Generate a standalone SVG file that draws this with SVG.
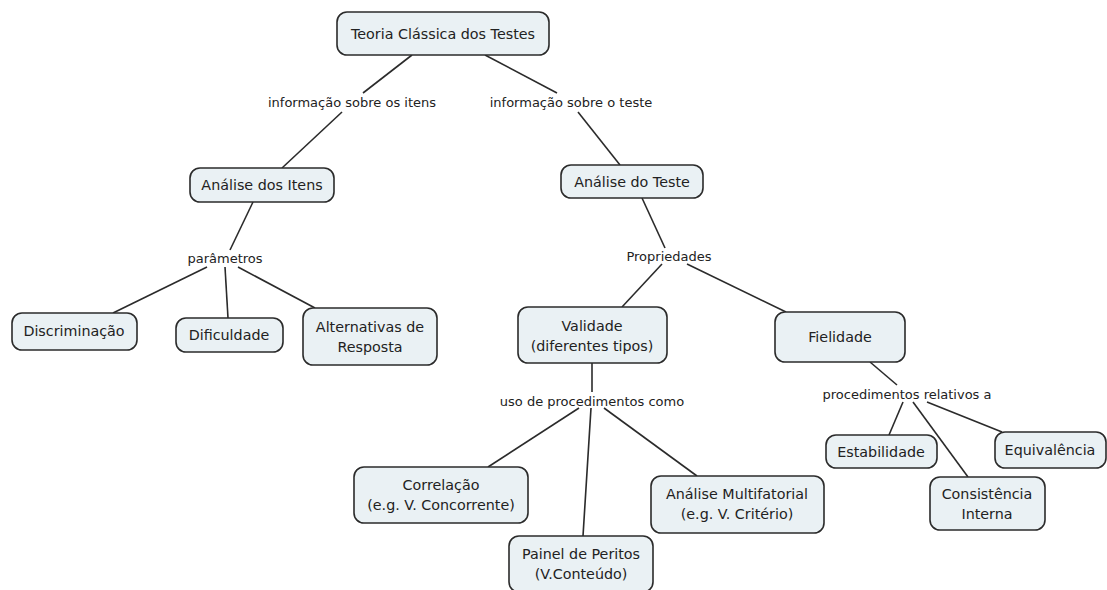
<svg xmlns="http://www.w3.org/2000/svg" width="1107" height="590" viewBox="0 0 1107 590">
<style>
.n rect{fill:#eaf1f4;stroke:#2b2b2b;stroke-width:1.6}
.n text{font-family:"DejaVu Sans",Verdana,sans-serif;font-size:14.3px;fill:#222;text-anchor:middle}
.c line{stroke:#2b2b2b;stroke-width:1.6}
.l{font-family:"DejaVu Sans",Verdana,sans-serif;font-size:13px;fill:#222;text-anchor:middle}
</style>
<rect width="1107" height="590" fill="#fff"/>
<g class="c">
<line x1="412" y1="55" x2="363" y2="93"/>
<line x1="342" y1="112" x2="282" y2="168"/>
<line x1="485" y1="55" x2="557" y2="93"/>
<line x1="578" y1="112" x2="620" y2="165"/>
<line x1="253" y1="202" x2="230" y2="250"/>
<line x1="207" y1="267" x2="113" y2="313"/>
<line x1="225" y1="267" x2="228" y2="318"/>
<line x1="238" y1="267" x2="315" y2="308"/>
<line x1="642" y1="198" x2="665" y2="248"/>
<line x1="662" y1="264" x2="622" y2="307"/>
<line x1="687" y1="264" x2="786" y2="312"/>
<line x1="592" y1="363" x2="592" y2="392"/>
<line x1="579" y1="408" x2="488" y2="467"/>
<line x1="591" y1="408" x2="583" y2="536"/>
<line x1="604" y1="408" x2="697" y2="476"/>
<line x1="870" y1="362" x2="897" y2="385"/>
<line x1="903" y1="402" x2="889" y2="435"/>
<line x1="913" y1="402" x2="968" y2="477"/>
<line x1="927" y1="402" x2="1002" y2="432"/>
</g>
<g id="labels">
<text class="l" x="352" y="107">informação sobre os itens</text>
<text class="l" x="571" y="107">informação sobre o teste</text>
<text class="l" x="225" y="263">parâmetros</text>
<text class="l" x="669" y="261">Propriedades</text>
<text class="l" x="592" y="406">uso de procedimentos como</text>
<text class="l" x="907" y="399">procedimentos relativos a</text>
</g>
<g id="root" class="n"><rect x="337" y="12" width="212" height="43" rx="10"/><text x="443" y="39">Teoria Clássica dos Testes</text></g>
<g id="itens" class="n"><rect x="190" y="168" width="144" height="34" rx="10"/><text x="262" y="190">Análise dos Itens</text></g>
<g id="teste" class="n"><rect x="561" y="165" width="142" height="33" rx="10"/><text x="632" y="187">Análise do Teste</text></g>
<g id="discriminacao" class="n"><rect x="12" y="313" width="125" height="37" rx="10"/><text x="74" y="336">Discriminação</text></g>
<g id="dificuldade" class="n"><rect x="176" y="318" width="107" height="34" rx="10"/><text x="229" y="340">Dificuldade</text></g>
<g id="alternativas" class="n"><rect x="303" y="308" width="134" height="57" rx="10"/><text x="370" y="332">Alternativas de</text><text x="370" y="352">Resposta</text></g>
<g id="validade" class="n"><rect x="518" y="307" width="149" height="56" rx="10"/><text x="592" y="331">Validade</text><text x="592" y="351">(diferentes tipos)</text></g>
<g id="fielidade" class="n"><rect x="775" y="312" width="130" height="50" rx="10"/><text x="840" y="342">Fielidade</text></g>
<g id="correlacao" class="n"><rect x="354" y="467" width="174" height="56" rx="10"/><text x="441" y="490">Correlação</text><text x="441" y="510">(e.g. V. Concorrente)</text></g>
<g id="painel" class="n"><rect x="509" y="536" width="144" height="56" rx="10"/><text x="581" y="559">Painel de Peritos</text><text x="581" y="579">(V.Conteúdo)</text></g>
<g id="multifatorial" class="n"><rect x="651" y="476" width="173" height="57" rx="10"/><text x="737" y="499">Análise Multifatorial</text><text x="737" y="519">(e.g. V. Critério)</text></g>
<g id="estabilidade" class="n"><rect x="826" y="435" width="111" height="33" rx="10"/><text x="881" y="457">Estabilidade</text></g>
<g id="equivalencia" class="n"><rect x="995" y="432" width="111" height="36" rx="10"/><text x="1050" y="455">Equivalência</text></g>
<g id="consistencia" class="n"><rect x="930" y="477" width="115" height="53" rx="10"/><text x="987" y="499">Consistência</text><text x="987" y="519">Interna</text></g>
</svg>
